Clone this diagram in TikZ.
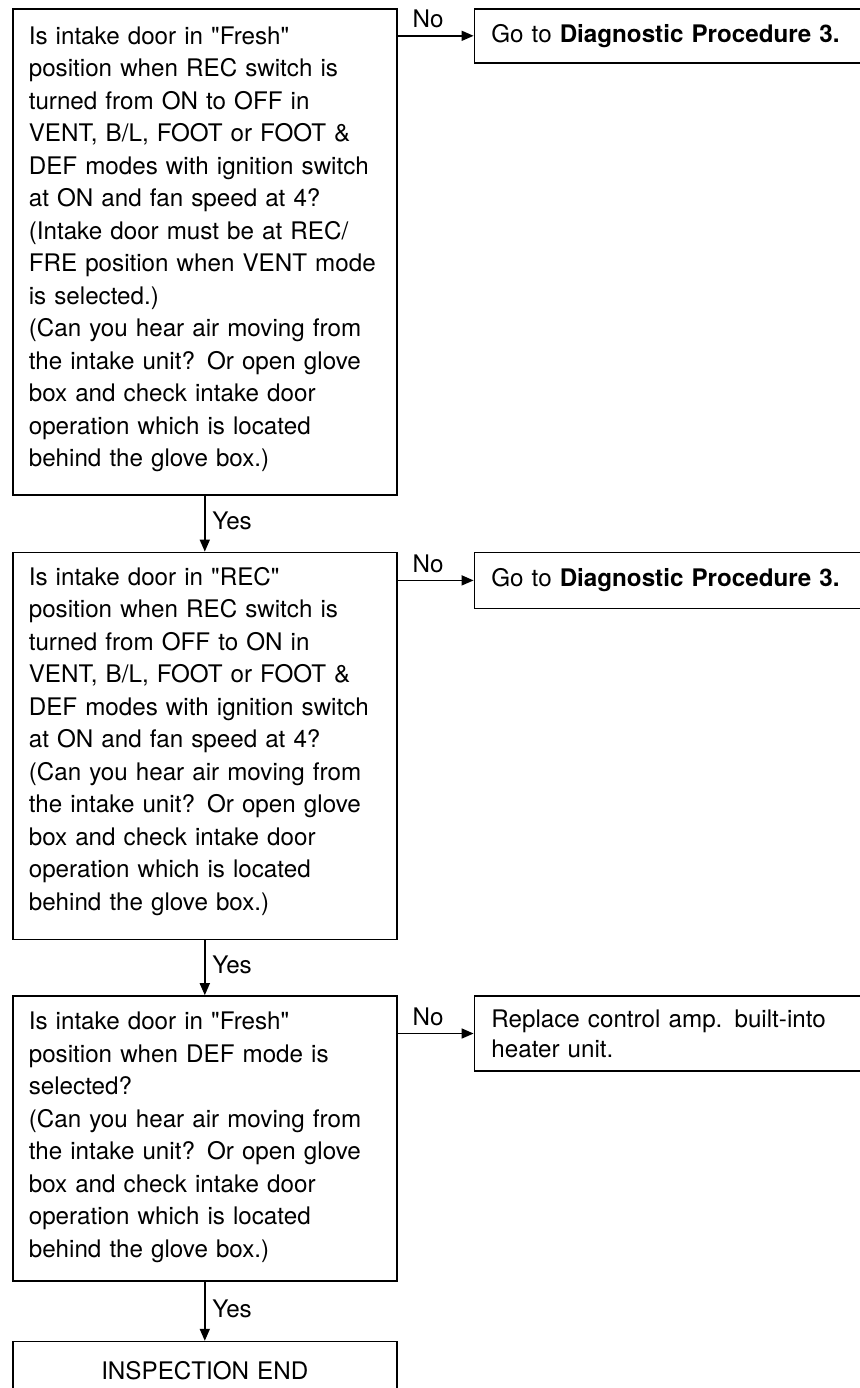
\documentclass[tikz,border=0pt]{standalone}
\usepackage{fontspec}
\setmainfont{TeX Gyre Heros}[Ligatures=TeXOff]
\usepackage{tikz}
\usetikzlibrary{arrows.meta,positioning}

\newcommand{\toppad}[1]{\rule{0pt}{#1}}
\newcommand{\botpad}[1]{\rule[-#1]{0pt}{#1}}

\begin{document}
\begin{tikzpicture}[
  qbox/.style={rectangle, draw, line width=0.8pt, text width=176pt, inner xsep=8pt, inner ysep=0pt, align=left, font=\fontsize{12.1pt}{16.25pt}\selectfont},
  abox/.style={rectangle, draw, line width=0.8pt, text width=176pt, inner xsep=8.5pt, align=left, font=\fontsize{12.1pt}{15pt}\selectfont},
  arr/.style={-{Triangle[length=6pt,width=5pt]}, line width=0.8pt},
  lbl/.style={font=\fontsize{12.1pt}{14pt}\selectfont}
]
  \useasboundingbox (0,0) rectangle (430pt,-694pt);
  \clip (0,0) rectangle (430pt,-694pt);

  \node[qbox, anchor=north west] (q1) at (6pt,-4pt) {\toppad{17.75pt}Is intake door in "Fresh"\\
    position when REC switch is\\
    turned from ON to OFF in\\
    VENT, B/L, FOOT or FOOT \&\\
    DEF modes with ignition switch\\
    at ON and fan speed at 4?\\
    (Intake door must be at REC/\\
    FRE position when VENT mode\\
    is selected.)\\
    (Can you hear air moving from\\
    the intake unit? Or open glove\\
    box and check intake door\\
    operation which is located\\
    behind the glove box.)\botpad{14pt}};
  \node[qbox, below=28pt of q1] (q2) {\toppad{16.5pt}Is intake door in "REC"\\
    position when REC switch is\\
    turned from OFF to ON in\\
    VENT, B/L, FOOT or FOOT \&\\
    DEF modes with ignition switch\\
    at ON and fan speed at 4?\\
    (Can you hear air moving from\\
    the intake unit? Or open glove\\
    box and check intake door\\
    operation which is located\\
    behind the glove box.)\botpad{14.5pt}};
  \node[qbox, below=27.5pt of q2] (q3) {\toppad{16.75pt}Is intake door in "Fresh"\\
    position when DEF mode is\\
    selected?\\
    (Can you hear air moving from\\
    the intake unit? Or open glove\\
    box and check intake door\\
    operation which is located\\
    behind the glove box.)\botpad{12pt}};
  \node[qbox, below=29.5pt of q3, align=center] (done) {\toppad{18.8pt}INSPECTION END\botpad{15pt}};

  \node[abox, minimum height=27pt, below right=0pt and 38pt of q1.north east] (r1) {Go to \textbf{Diagnostic Procedure 3.}};
  \node[abox, minimum height=28pt, below right=0pt and 38pt of q2.north east] (r2) {Go to \textbf{Diagnostic Procedure 3.}};
  \node[abox, minimum height=37.5pt, below right=0pt and 38pt of q3.north east] (r3) {Replace control amp. built-into\\heater unit.};

  \draw[arr] (q1.east |- r1.west) -- node[lbl, above, pos=.4] {No} (r1.west);
  \draw[arr] (q2.east |- r2.west) -- node[lbl, above, pos=.4] {No} (r2.west);
  \draw[arr] (q3.east |- r3.west) -- node[lbl, above, pos=.4] {No} (r3.west);
  \draw[arr] (q1) -- node[lbl, right, pos=.45] {Yes} (q2);
  \draw[arr] (q2) -- node[lbl, right, pos=.45] {Yes} (q3);
  \draw[arr] (q3) -- node[lbl, right, pos=.45] {Yes} (done);
\end{tikzpicture}
\end{document}
